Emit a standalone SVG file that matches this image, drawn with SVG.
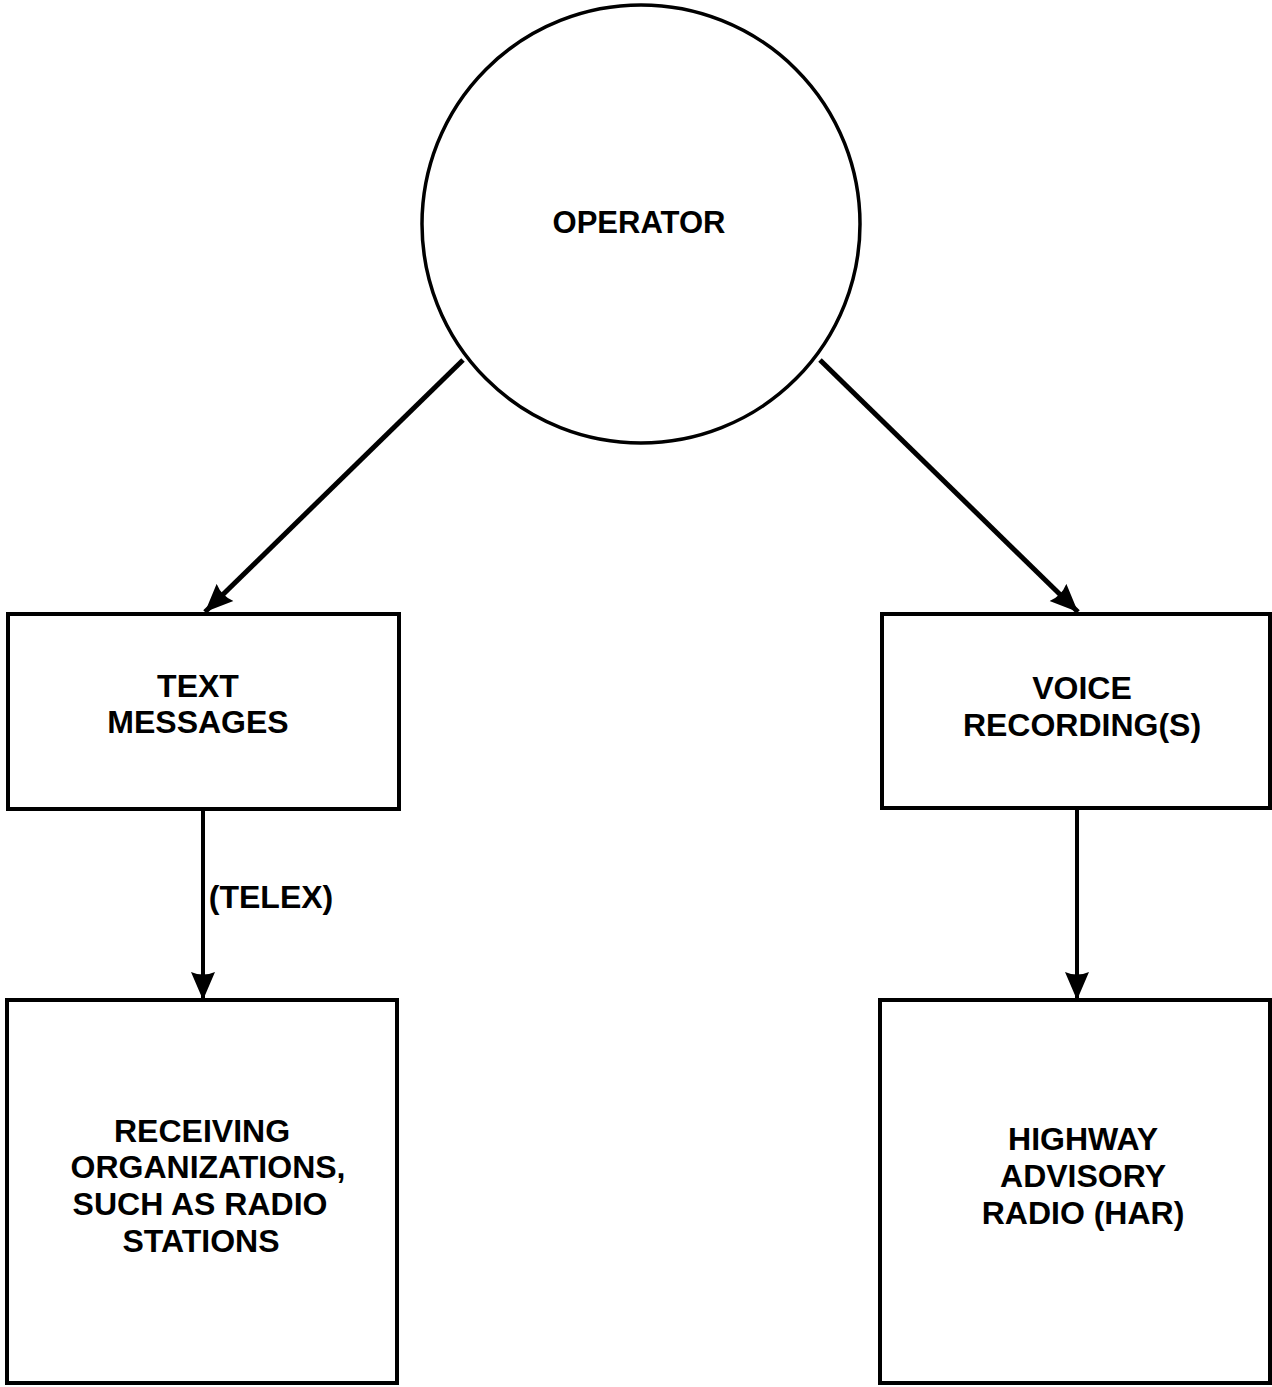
<svg xmlns="http://www.w3.org/2000/svg" width="1272" height="1387" viewBox="0 0 1272 1387">
<defs>
<style>
.shape{fill:#fff;stroke:#000;stroke-width:4}
.lbl{font-family:"Liberation Sans",Arial,sans-serif;font-weight:bold;font-size:32px;text-anchor:middle;fill:#000}
.conn{stroke:#000;stroke-width:4;fill:none}
.diag{stroke-width:5}
</style>
<marker id="arr" markerWidth="30" markerHeight="26" refX="28" refY="13" orient="auto" markerUnits="userSpaceOnUse">
<path d="M0,1 L28,13 L0,25 Q5,13 0,1 Z" fill="#000"/>
</marker>
</defs>
<rect width="1272" height="1387" fill="#fff"/>
<g id="connectors">
<line class="conn diag" x1="463" y1="360" x2="205" y2="612" marker-end="url(#arr)"/>
<line class="conn diag" x1="820" y1="360" x2="1078" y2="612" marker-end="url(#arr)"/>
<line class="conn" x1="203" y1="809" x2="203" y2="1000" marker-end="url(#arr)"/>
<line class="conn" x1="1077" y1="809" x2="1077" y2="1000" marker-end="url(#arr)"/>
<text class="lbl" x="271" y="908">(TELEX)</text>
</g>
<g id="operator">
<circle class="shape" cx="641" cy="224" r="219" style="stroke-width:3.5"/>
<text class="lbl" x="639" y="233" style="font-size:31px">OPERATOR</text>
</g>
<g id="text-messages">
<rect class="shape" x="8" y="614" width="391" height="195"/>
<text class="lbl" x="198" y="697">TEXT</text>
<text class="lbl" x="198" y="733">MESSAGES</text>
</g>
<g id="voice-recordings">
<rect class="shape" x="882" y="614" width="388" height="194"/>
<text class="lbl" x="1082" y="699">VOICE</text>
<text class="lbl" x="1082" y="736">RECORDING(S)</text>
</g>
<g id="receiving-organizations">
<rect class="shape" x="7" y="1000" width="390" height="383"/>
<text class="lbl" x="202" y="1142">RECEIVING</text>
<text class="lbl" x="208" y="1178">ORGANIZATIONS,</text>
<text class="lbl" x="200" y="1215">SUCH AS RADIO</text>
<text class="lbl" x="201" y="1252">STATIONS</text>
</g>
<g id="har">
<rect class="shape" x="880" y="1000" width="390" height="383"/>
<text class="lbl" x="1083" y="1150">HIGHWAY</text>
<text class="lbl" x="1083" y="1187">ADVISORY</text>
<text class="lbl" x="1083" y="1224">RADIO (HAR)</text>
</g>
</svg>
